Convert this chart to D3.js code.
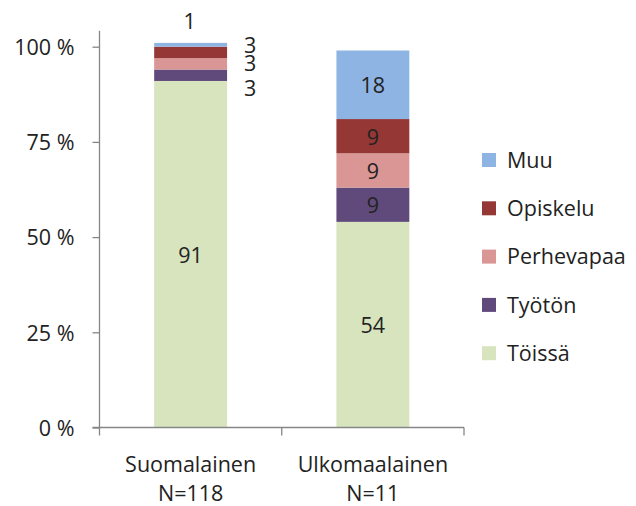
<!DOCTYPE html>
<html><head><meta charset="utf-8">
<script src="https://cdn.jsdelivr.net/npm/d3@7"></script>
<style>body{margin:0;background:#fff}svg{display:block}text{font-family:"Open Sans",sans-serif;}</style>
</head><body><svg id="c" width="636" height="506"></svg>
<script>
const categories = ["Suomalainen|N=118", "Ulkomaalainen|N=11"];
const seriesNames = ["Töissä", "Työtön", "Perhevapaa", "Opiskelu", "Muu"];
const colors = ["#D7E4BD", "#604A7B", "#D99694", "#953735", "#8EB4E3"];
const values = [
  [91, 3, 3, 3, 1],
  [54, 9, 9, 9, 18]
];
const yTicks = [0, 25, 50, 75, 100];
const legendOrder = ["Muu", "Opiskelu", "Perhevapaa", "Työtön", "Töissä"];

(function(){
const svg = d3.select("#c");
const mLeft = 99.5, mRight = 464, mTop = 46.7, mBottom = 427.5;
const x = d3.scaleBand().domain(categories).range([mLeft, mRight]).paddingInner(0.6).paddingOuter(0.3);
const y = d3.scaleLinear().domain([0, 100]).range([mBottom, mTop]);
const fs = 21.5;
const txtColor = "#222";

const stack = values.map(v => { let acc = 0; return v.map((d, i) => { const s = {y0: acc, y1: acc + d, v: d, i}; acc += d; return s; }); });

categories.forEach((c, ci) => {
  const g = svg.append("g");
  stack[ci].forEach(s => {
    g.append("rect").attr("x", x(c)).attr("width", x.bandwidth())
      .attr("y", y(s.y1)).attr("height", y(s.y0) - y(s.y1)).attr("fill", colors[s.i]);
  });
});

const cx0 = x(categories[0]) + x.bandwidth()/2;
const cx1 = x(categories[1]) + x.bandwidth()/2;
function lab(t, xx, yy) {
  svg.append("text").attr("x", xx).attr("y", yy).attr("text-anchor", "middle")
    .attr("dominant-baseline", "central").attr("font-size", fs).attr("fill", txtColor).text(t);
}
const s0 = stack[0];
lab(s0[0].v, cx0, y((s0[0].y0 + s0[0].y1)/2));
const shifts = [12.5, -1, -8];   // Työtön, Perhevapaa, Opiskelu labels moved beside the bar
[1,2,3].forEach((i, k) => {
  lab(s0[i].v, x(categories[0]) + x.bandwidth() + 23, y((s0[i].y0 + s0[i].y1)/2) + shifts[k]);
});
lab(s0[4].v, cx0 - 1, y(s0[4].y1) - 22);
stack[1].forEach(s => lab(s.v, cx1, y((s.y0 + s.y1)/2)));

const axisColor = "#868686";
const yAxis = svg.append("g").attr("transform", `translate(${mLeft},0)`)
  .call(d3.axisLeft(y).tickValues(yTicks).tickSize(7).tickFormat(d => d + " %"));
yAxis.select(".domain").attr("stroke", axisColor).attr("stroke-width", 1.3).attr("d", `M0,${mTop - 16}V${mBottom}`);
yAxis.selectAll(".tick line").attr("stroke", axisColor).attr("stroke-width", 1.3);
yAxis.selectAll(".tick text").attr("font-size", fs).attr("fill", txtColor).attr("x", -25).attr("dy", "0.36em")
  .style("font-family", '"Open Sans",sans-serif');

const xg = svg.append("g").attr("transform", `translate(0,${mBottom})`);
xg.append("line").attr("x1", mLeft - 7).attr("x2", mRight).attr("stroke", axisColor).attr("stroke-width", 1.3);
const bounds = [mLeft, (mLeft + mRight)/2, mRight];
bounds.forEach(b => xg.append("line").attr("x1", b).attr("x2", b).attr("y1", 0).attr("y2", 8).attr("stroke", axisColor).attr("stroke-width", 1.3));
categories.forEach(c => {
  const parts = c.split("|");
  const t = xg.append("text").attr("text-anchor", "middle").attr("font-size", fs).attr("fill", txtColor);
  t.append("tspan").attr("x", x(c) + x.bandwidth()/2).attr("y", 44).text(parts[0]);
  t.append("tspan").attr("x", x(c) + x.bandwidth()/2).attr("y", 73.5).text(parts[1]);
});

const lg = svg.append("g").attr("transform", "translate(482,160)");
legendOrder.forEach((n, i) => {
  const ci = seriesNames.indexOf(n);
  lg.append("rect").attr("x", 0).attr("y", i*48.3 - 7).attr("width", 14).attr("height", 14).attr("fill", colors[ci]);
  lg.append("text").attr("x", 25).attr("y", i*48.3).attr("dy", "0.36em")
    .attr("font-size", fs).attr("fill", txtColor).text(n);
});
})();
</script></body></html>
